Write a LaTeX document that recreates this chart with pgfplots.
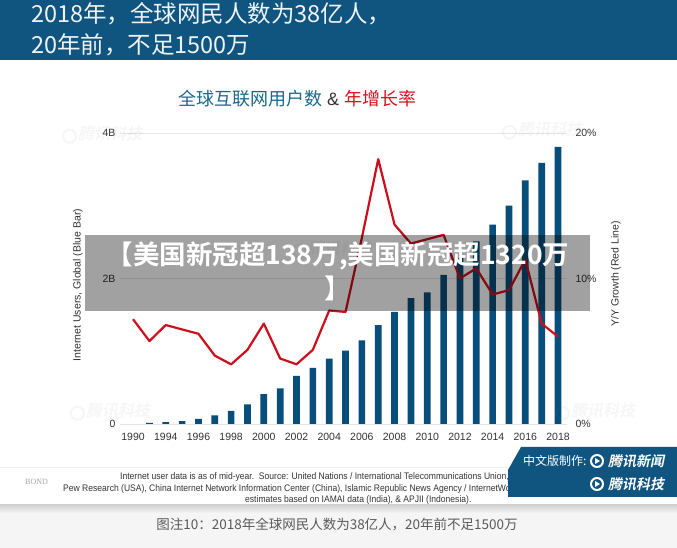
\documentclass[border=0pt]{standalone}
\usepackage{pgfplots}
\pgfplotsset{compat=1.18}
\usepackage{fontspec}
\setmainfont{Liberation Sans}
\newfontfamily\cjk{Noto Sans CJK SC}
\newfontfamily\cjkbold{Noto Sans CJK SC Bold}
\newfontfamily\cjkbi[FakeSlant=0.2]{Noto Sans CJK SC Bold}
\newfontfamily\bondfont{Liberation Serif}

\definecolor{hdr}{RGB}{16,84,128}
\definecolor{barblue}{RGB}{8,78,122}
\definecolor{linered}{RGB}{206,14,28}
\definecolor{ttlblue}{RGB}{26,104,140}
\definecolor{ttlred}{RGB}{214,18,28}
\definecolor{txt}{RGB}{51,51,51}
\definecolor{capbg}{RGB}{245,245,245}
\definecolor{captxt}{RGB}{90,90,90}

% faint logo stamp used across the slide
\newcommand{\wm}[2]{%
  \begin{scope}[shift={(#1,#2)},rotate=20,opacity=0.07]
    \draw[line width=2pt,gray] (-24,0) circle (6.5);
    \node[anchor=west,text=gray,font=\cjkbi\fontsize{16}{16}\selectfont,inner sep=0] at (-15,0) {腾讯科技};
  \end{scope}}

\begin{document}
\begin{tikzpicture}[x=1pt,y=1pt]
\path[use as bounding box] (0,0) rectangle (677,548);
\fill[white] (0,0) rectangle (677,548);

% caption strip at the bottom
\fill[capbg] (0,0) rectangle (677,43);
\shade[top color=gray!35,bottom color=capbg] (0,35) rectangle (677,43);
\draw[gray!10,line width=1pt] (0,80) -- (677,80);

% header band
\fill[hdr] (0,488) rectangle (677,548);
\node[anchor=west,inner sep=0,text=white!93!hdr,font=\cjk\fontsize{23.5}{23.5}\selectfont] at (31,534) {2018年，全球网民人数为38亿人，};
\node[anchor=west,inner sep=0,text=white!93!hdr,font=\cjk\fontsize{23.5}{23.5}\selectfont] at (31,503) {20年前，不足1500万};

% chart title
\node[anchor=west,inner sep=0,font=\fontsize{18}{18}\selectfont] at (178,449)
  {{\cjk\color{ttlblue}全球互联网用户数} {\color{txt}\&} {\cjk\color{ttlred}年增长率}};

% users (bars), left axis
\begin{axis}[
  at={(120pt,124pt)}, anchor=south west,
  scale only axis, width=447pt, height=291pt,
  xmin=1991.2, xmax=2018.55, ymin=0, ymax=4,
  axis line style={draw=none}, tick style={draw=none},
  ymajorgrids, grid style={gray!20,line width=0.8pt},
  xtick={1992,1994,...,2018},
  xticklabels={1990,1994,1996,1998,2000,2002,2004,2006,2008,2010,2012,2014,2016,2018},
  xticklabel style={font=\fontsize{10.5}{12}\selectfont,text=txt,yshift=-6pt},
  ytick={0,2,4}, yticklabels={0,2B,4B},
  yticklabel style={font=\fontsize{10.5}{12}\selectfont,text=txt,xshift=-1pt},
]
\addplot[ybar,bar width=0.41,fill=barblue,draw=none] coordinates {
 (1993,0.014) (1994,0.025) (1995,0.04) (1996,0.07) (1997,0.12) (1998,0.18)
 (1999,0.27) (2000,0.41) (2001,0.49) (2002,0.66) (2003,0.77) (2004,0.90)
 (2005,1.01) (2006,1.15) (2007,1.36) (2008,1.54) (2009,1.73) (2010,1.81)
 (2011,2.05) (2012,2.28) (2013,2.51) (2014,2.74) (2015,3.00) (2016,3.35)
 (2017,3.59) (2018,3.81)};
\end{axis}

% growth (line), right axis
\begin{axis}[
  at={(120pt,124pt)}, anchor=south west,
  scale only axis, width=447pt, height=291pt,
  xmin=1991.2, xmax=2018.55, ymin=0, ymax=20,
  axis line style={draw=none}, tick style={draw=none},
  xtick=\empty,
  ytick={0,10,20}, yticklabels={0\%,10\%,20\%},
  yticklabel pos=right,
  yticklabel style={font=\fontsize{10.5}{12}\selectfont,text=txt,xshift=5pt},
]
\addplot[linered,line width=2.2pt,line join=round] coordinates {
 (1992,7.2) (1993,5.7) (1994,6.8) (1995,6.5) (1996,6.2) (1997,4.7)
 (1998,4.1) (1999,5.1) (2000,6.9) (2001,4.5) (2002,4.1) (2003,5.1)
 (2004,7.8) (2005,7.7) (2006,12.8) (2007,18.2) (2008,13.7) (2009,12.4)
 (2010,12.7) (2011,13.0) (2012,10.0) (2013,10.7) (2014,8.9) (2015,9.2)
 (2016,11.3) (2017,6.9) (2018,6.0)};
\end{axis}

% axis titles
\node[rotate=90,inner sep=0,text=txt,font=\fontsize{10.5}{12}\selectfont] at (78,263) {Internet Users, Global (Blue Bar)};
\node[rotate=90,inner sep=0,text=txt,font=\fontsize{10.5}{12}\selectfont] at (616,274) {Y/Y Growth (Red Line)};

% stamps
\wm{92}{420}
\wm{532}{424}
\wm{100}{143}
\wm{585}{143}
\wm{322}{305}

% footer source note
\node[anchor=west,inner sep=0,text=gray!70,font=\bondfont\fontsize{8}{9}\selectfont] at (25,66) {BOND};
\node[anchor=west,inner sep=0,text=txt,font=\fontsize{9.5}{10}\selectfont] at (120,71)
  {\scalebox{0.9}[1]{Internet user data is as of mid-year.\ \ Source: United Nations / International Telecommunications Union,}};
\node[anchor=west,inner sep=0,text=txt,font=\fontsize{9.5}{10}\selectfont] at (63,59)
  {\scalebox{0.9}[1]{Pew Research (USA), China Internet Network Information Center (China), Islamic Republic News Agency / InternetWorld}};
\node[anchor=west,inner sep=0,text=txt,font=\fontsize{9.5}{10}\selectfont] at (245,48)
  {\scalebox{0.9}[1]{estimates based on IAMAI data (India), \& APJII (Indonesia).}};

% producer badge
\fill[hdr] (521,101) -- (677,101) -- (677,51) -- (508,51) -- (508,78) -- cycle;
\node[anchor=west,inner sep=0,text=white,font=\cjk\fontsize{12}{12}\selectfont] at (523,87) {中文版制作:};
\draw[white,line width=2pt] (597,87) circle (6);
\fill[white] (595,84) -- (595,90) -- (600,87) -- cycle;
\node[anchor=west,inner sep=0,text=white,font=\cjkbi\fontsize{14}{14}\selectfont] at (608,87) {腾讯新闻};
\draw[white,line width=2pt] (597,64) circle (6);
\fill[white] (595,61) -- (595,67) -- (600,64) -- cycle;
\node[anchor=west,inner sep=0,text=white,font=\cjkbi\fontsize{14}{14}\selectfont] at (608,64) {腾讯科技};

% caption
\node[inner sep=0,text=captxt,font=\cjk\fontsize{13.5}{14}\selectfont] at (337,24) {图注10：2018年全球网民人数为38亿人，20年前不足1500万};

% headline banner
\fill[black,opacity=0.37] (85,237) rectangle (590,313);
\node[inner sep=0,text=white,font=\cjkbold\fontsize{26.5}{26.5}\selectfont] at (338,292) {【美国新冠超138万,美国新冠超1320万};
\node[inner sep=0,text=white,font=\cjkbold\fontsize{26.5}{26.5}\selectfont] at (338,260) {】};
\end{tikzpicture}
\end{document}
